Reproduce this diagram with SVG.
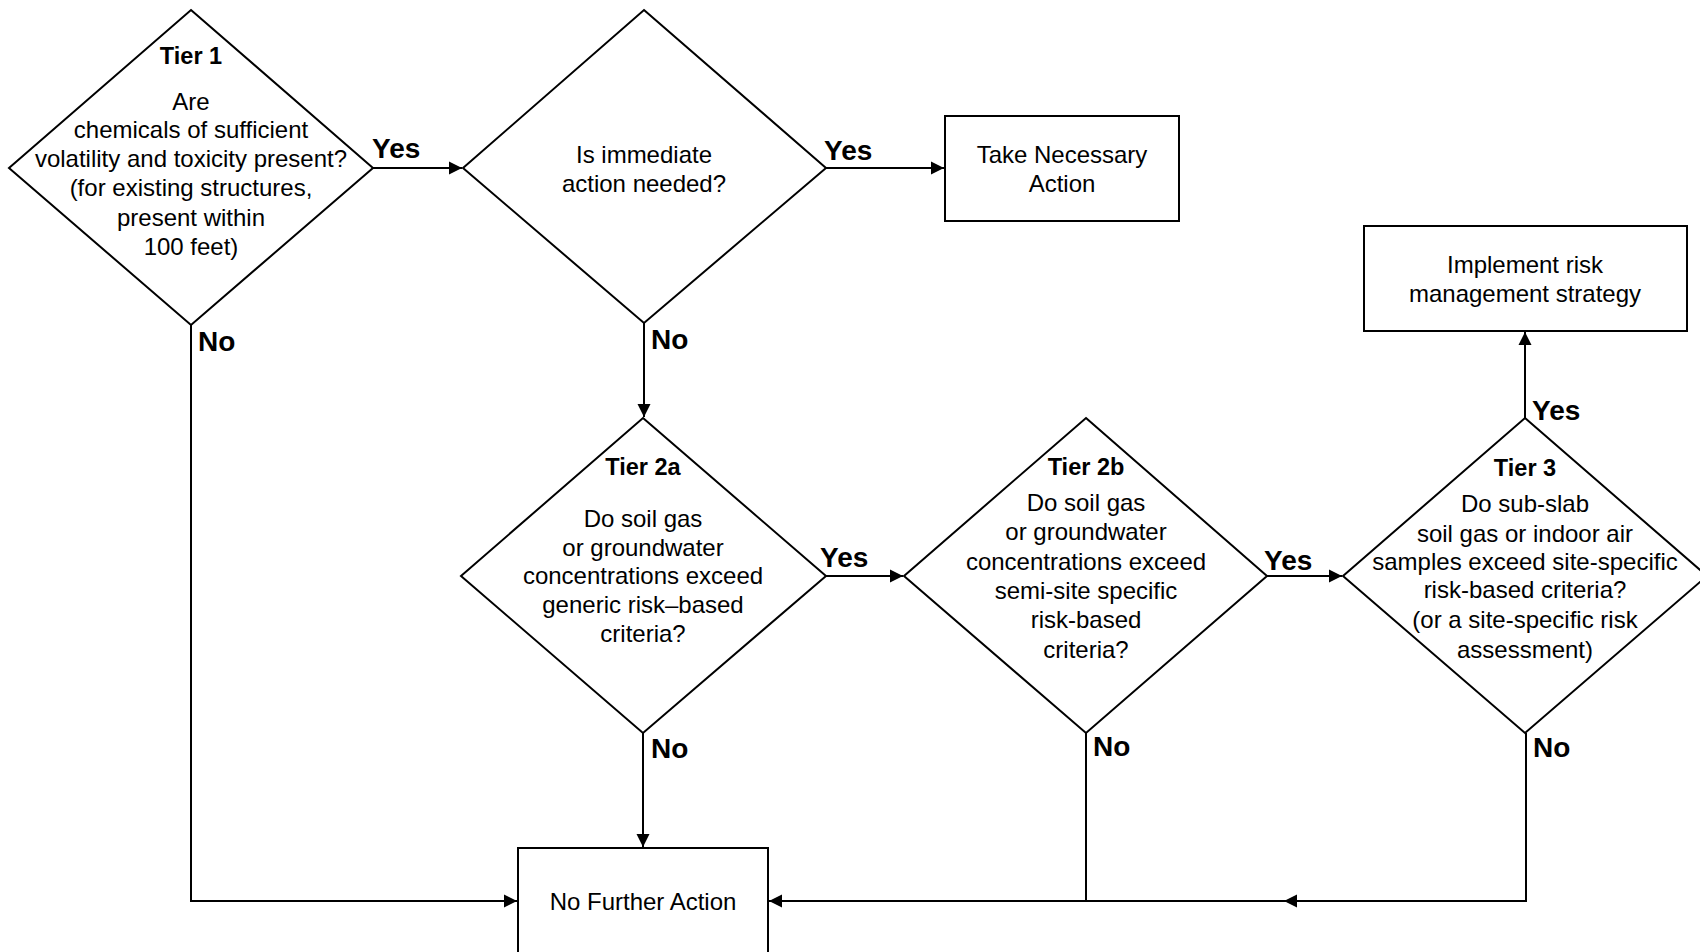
<svg xmlns="http://www.w3.org/2000/svg" width="1700" height="952" viewBox="0 0 1700 952">
<style>
.shape{fill:#fff;stroke:#000;stroke-width:2}
.t{font-family:"Liberation Sans",Arial,sans-serif;font-size:24px;fill:#000;text-anchor:middle}
.tb{font-family:"Liberation Sans",Arial,sans-serif;font-size:23.5px;font-weight:bold;fill:#000;text-anchor:middle}
.lbl{font-family:"Liberation Sans",Arial,sans-serif;font-size:28px;font-weight:bold;fill:#000}
.c{fill:none;stroke:#000;stroke-width:2}
</style>
<defs>
<marker id="ah" markerUnits="userSpaceOnUse" markerWidth="14" markerHeight="14" viewBox="0 0 14 14" refX="13" refY="7" orient="auto">
<path d="M0,0.5 L13,7 L0,13.5 Z" fill="#000"/>
</marker>
</defs>
<rect width="1700" height="952" fill="#fff"/>

<g id="connectors">
<path class="c" d="M373,168 H462" marker-end="url(#ah)"/>
<path class="c" d="M826,168 H944" marker-end="url(#ah)"/>
<path class="c" d="M644,323 V417" marker-end="url(#ah)"/>
<path class="c" d="M826,576 H903" marker-end="url(#ah)"/>
<path class="c" d="M1267,576 H1342" marker-end="url(#ah)"/>
<path class="c" d="M1525,418 V332" marker-end="url(#ah)"/>
<path class="c" d="M191,325 V901 H517" marker-end="url(#ah)"/>
<path class="c" d="M643,733 V847" marker-end="url(#ah)"/>
<path class="c" d="M1086,733 V901 H769" marker-end="url(#ah)"/>
<path class="c" d="M1526,733 V901 H1284" marker-end="url(#ah)"/>
<path class="c" d="M1284,901 H1086"/>
<text class="lbl" x="372" y="158">Yes</text>
<text class="lbl" x="824" y="160">Yes</text>
<text class="lbl" x="198" y="351">No</text>
<text class="lbl" x="651" y="349">No</text>
<text class="lbl" x="820" y="567">Yes</text>
<text class="lbl" x="1264" y="570">Yes</text>
<text class="lbl" x="1532" y="420">Yes</text>
<text class="lbl" x="651" y="758">No</text>
<text class="lbl" x="1093" y="756">No</text>
<text class="lbl" x="1533" y="757">No</text>
</g>

<g id="tier1">
<polygon class="shape" points="191,10 373,168 191,325 9,168"/>
<text class="tb" x="191" y="64">Tier 1</text>
<text class="t" x="191" y="110">Are</text>
<text class="t" x="191" y="138">chemicals of sufficient</text>
<text class="t" x="191" y="167">volatility and toxicity present?</text>
<text class="t" x="191" y="196">(for existing structures,</text>
<text class="t" x="191" y="226">present within</text>
<text class="t" x="191" y="255">100 feet)</text>
</g>

<g id="immediate">
<polygon class="shape" points="644,10 826,168 644,323 463,168"/>
<text class="t" x="644" y="163">Is immediate</text>
<text class="t" x="644" y="192">action needed?</text>
</g>

<g id="take-action">
<rect class="shape" x="945" y="116" width="234" height="105"/>
<text class="t" x="1062" y="163">Take Necessary</text>
<text class="t" x="1062" y="192">Action</text>
</g>

<g id="implement">
<rect class="shape" x="1364" y="226" width="323" height="105"/>
<text class="t" x="1525" y="273">Implement risk</text>
<text class="t" x="1525" y="302">management strategy</text>
</g>

<g id="tier2a">
<polygon class="shape" points="643,418 826,576 643,733 461,576"/>
<text class="tb" x="643" y="475">Tier 2a</text>
<text class="t" x="643" y="527">Do soil gas</text>
<text class="t" x="643" y="556">or groundwater</text>
<text class="t" x="643" y="584">concentrations exceed</text>
<text class="t" x="643" y="613">generic risk–based</text>
<text class="t" x="643" y="642">criteria?</text>
</g>

<g id="tier2b">
<polygon class="shape" points="1086,418 1267,576 1086,733 904,576"/>
<text class="tb" x="1086" y="475">Tier 2b</text>
<text class="t" x="1086" y="511">Do soil gas</text>
<text class="t" x="1086" y="540">or groundwater</text>
<text class="t" x="1086" y="570">concentrations exceed</text>
<text class="t" x="1086" y="599">semi-site specific</text>
<text class="t" x="1086" y="628">risk-based</text>
<text class="t" x="1086" y="658">criteria?</text>
</g>

<g id="tier3">
<polygon class="shape" points="1525,418 1707,576 1525,733 1343,576"/>
<text class="tb" x="1525" y="476">Tier 3</text>
<text class="t" x="1525" y="512">Do sub-slab</text>
<text class="t" x="1525" y="542">soil gas or indoor air</text>
<text class="t" x="1525" y="570">samples exceed site-specific</text>
<text class="t" x="1525" y="598">risk-based criteria?</text>
<text class="t" x="1525" y="628">(or a site-specific risk</text>
<text class="t" x="1525" y="658">assessment)</text>
</g>

<g id="no-further">
<rect class="shape" x="518" y="848" width="250" height="108"/>
<text class="t" x="643" y="910">No Further Action</text>
</g>
</svg>
